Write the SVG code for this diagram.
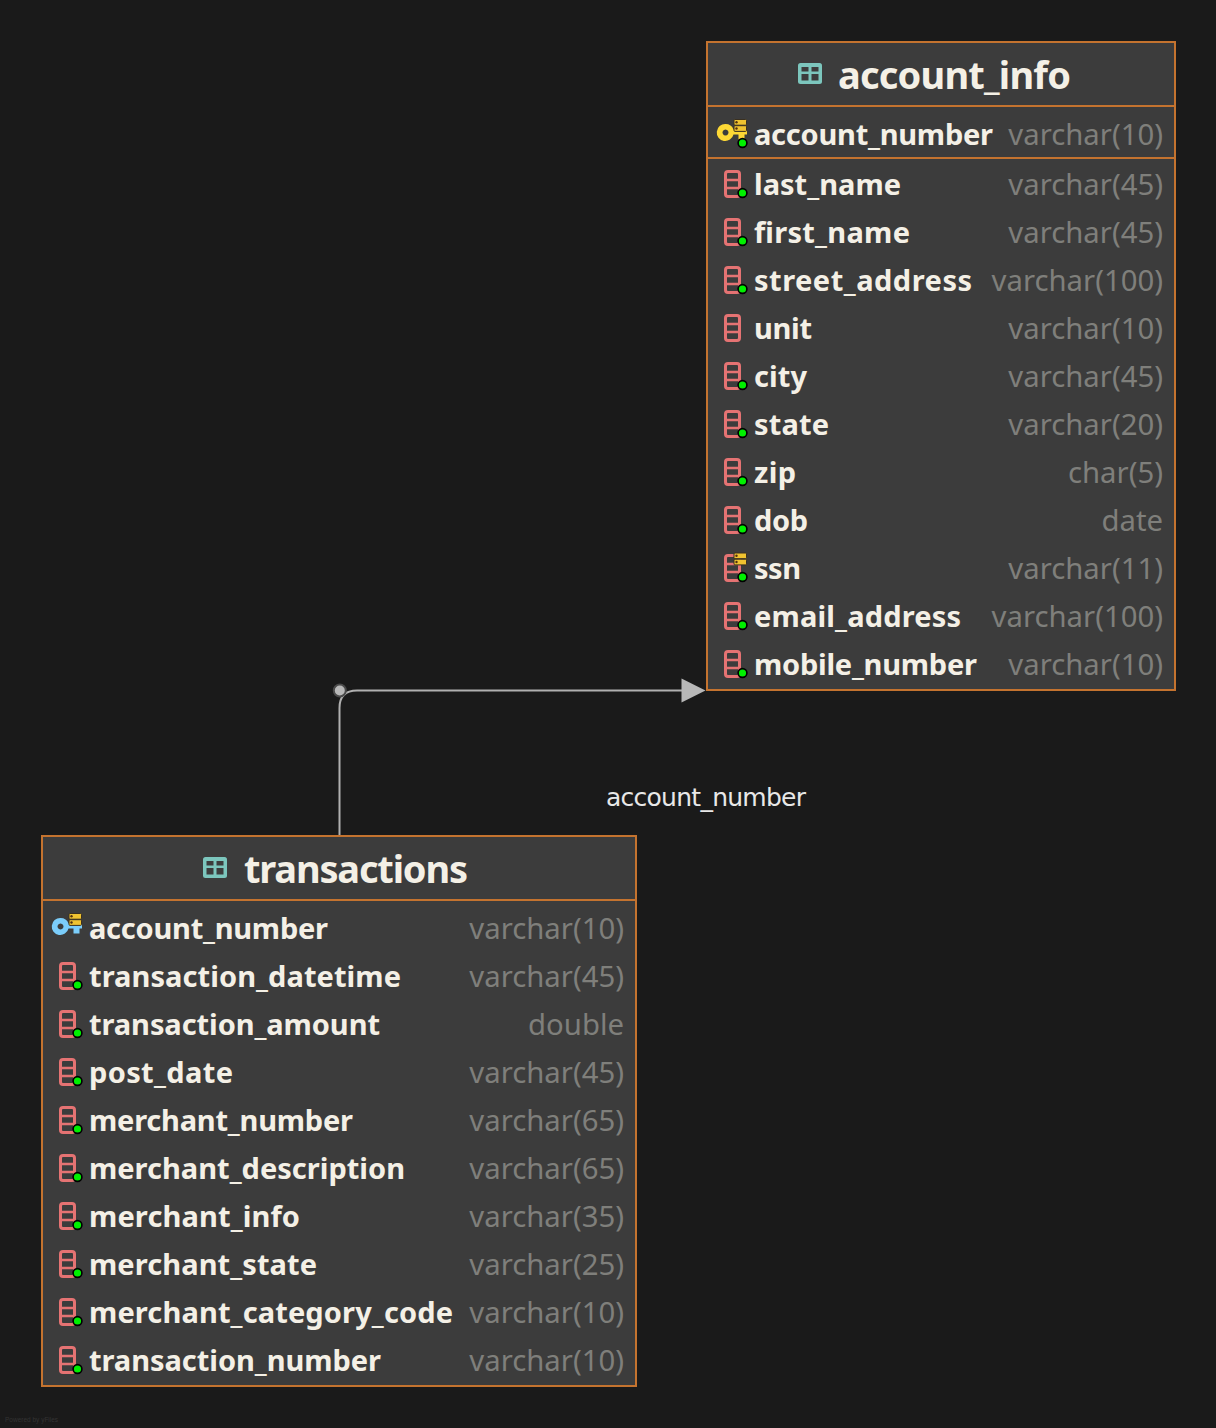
<svg xmlns="http://www.w3.org/2000/svg" xmlns:xlink="http://www.w3.org/1999/xlink" width="1216" height="1428" viewBox="0 0 1216 1428">
<style>
.n{font:700 29px "Noto Sans",sans-serif;fill:#f4f0e6}
.t{font:400 29.300px "Noto Sans",sans-serif;fill:#7f7f7b;text-anchor:end}
.h{font:700 38px "Noto Sans",sans-serif;fill:#f4f0e6}
.b{fill:#3c3c3c;stroke:#c4732f;stroke-width:2}
.d{stroke:#c4732f;stroke-width:2}
.l{font:400 25px "DejaVu Sans",sans-serif;fill:#e8e8e8}
.e{fill:none;stroke:#b0b0b0;stroke-width:2}
</style>
<defs>
<g id="tbl"><rect x="0" y="0" width="24" height="21" rx="2.500" fill="#7cc6bd"/><path d="M3.500 4h7v4.500h-7zM13.500 4h7v4.500h-7zM3.500 11h7v6.500h-7zM13.500 11h7v6.500h-7z" fill="#3c3c3c"/></g>
<g id="col"><rect x="1.500" y="1.500" width="14" height="25" rx="2.500" fill="none" stroke="#e57373" stroke-width="3"/><path d="M2 10h13M2 18h13" stroke="#e57373" stroke-width="2.500"/></g>
<g id="dot"><circle cx="0" cy="0" r="4.400" fill="#00f000" stroke="#000" stroke-width="1.600"/></g>
<g id="idx"><rect x="0" y="0" width="12.500" height="5.700" rx="1" fill="#f0c330" stroke="#3a3020"/><rect x="0" y="6.200" width="12.500" height="5.700" rx="1" fill="#f0c330" stroke="#3a3020"/><circle cx="2.500" cy="2.800" r="1.200" fill="#503010"/><circle cx="2.500" cy="9" r="1.200" fill="#503010"/></g>
<g id="key"><path fill-rule="evenodd" d="M8.500 0a8.500 8.500 0 0 1 8 5.500h13.500v5h-2.500v5h-6v-5h-5a8.500 8.500 0 1 1-8-10.500zm0 5.500a3 3 0 1 0 0.010 0z"/></g>
</defs>
<rect width="1216" height="1428" fill="#1a1a1a"/>
<text x="5" y="1422" font-family="Liberation Sans,sans-serif" font-size="6.500" fill="#333">Powered by yFiles</text>
<g id="connectors">
<path class="e" d="M339.500 835V708Q339.500 690.500 357 690.500H684"/>
<circle cx="339.800" cy="690.500" r="6" fill="#b8b8b8" stroke="#4a4a4a" stroke-width="2"/>
<path d="M681.500 678.500L705.500 690.500L681.500 702.500z" fill="#b8b8b8"/>
<text class="l" x="606" y="806" textLength="200">account_number</text>
</g>
<g id="account_info">
<rect class="b" x="707" y="42" width="468" height="648"/>
<path class="d" d="M707 106H1175M707 158H1175"/>
<use href="#tbl" x="798" y="63"/>
<text class="h" x="838" y="89" textLength="233">account_info</text>
<g fill="#fdd835"><use href="#key" x="717" y="124"/></g><use href="#idx" x="734" y="119.500"/><use href="#dot" x="742.500" y="143"/>
<text class="n" x="754" y="145" textLength="239">account_number</text><text class="t" x="1163" y="144.500">varchar(10)</text>
<use href="#col" x="724" y="170"/><use href="#dot" x="742.500" y="193"/><text class="n" x="754" y="195" textLength="147">last_name</text><text class="t" x="1163" y="194.500">varchar(45)</text>
<use href="#col" x="724" y="218"/><use href="#dot" x="742.500" y="241"/><text class="n" x="754" y="243" textLength="156">first_name</text><text class="t" x="1163" y="242.500">varchar(45)</text>
<use href="#col" x="724" y="266"/><use href="#dot" x="742.500" y="289"/><text class="n" x="754" y="291" textLength="218">street_address</text><text class="t" x="1163" y="290.500">varchar(100)</text>
<use href="#col" x="724" y="314"/><text class="n" x="754" y="339" textLength="58">unit</text><text class="t" x="1163" y="338.500">varchar(10)</text>
<use href="#col" x="724" y="362"/><use href="#dot" x="742.500" y="385"/><text class="n" x="754" y="387" textLength="53">city</text><text class="t" x="1163" y="386.500">varchar(45)</text>
<use href="#col" x="724" y="410"/><use href="#dot" x="742.500" y="433"/><text class="n" x="754" y="435" textLength="75">state</text><text class="t" x="1163" y="434.500">varchar(20)</text>
<use href="#col" x="724" y="458"/><use href="#dot" x="742.500" y="481"/><text class="n" x="754" y="483" textLength="42">zip</text><text class="t" x="1163" y="482.500">char(5)</text>
<use href="#col" x="724" y="506"/><use href="#dot" x="742.500" y="529"/><text class="n" x="754" y="531" textLength="54">dob</text><text class="t" x="1163" y="530.500">date</text>
<use href="#col" x="724" y="554"/><use href="#idx" x="734" y="553"/><use href="#dot" x="742.500" y="577"/><text class="n" x="754" y="579" textLength="47">ssn</text><text class="t" x="1163" y="578.500">varchar(11)</text>
<use href="#col" x="724" y="602"/><use href="#dot" x="742.500" y="625"/><text class="n" x="754" y="627" textLength="207">email_address</text><text class="t" x="1163" y="626.500">varchar(100)</text>
<use href="#col" x="724" y="650"/><use href="#dot" x="742.500" y="673"/><text class="n" x="754" y="675" textLength="223">mobile_number</text><text class="t" x="1163" y="674.500">varchar(10)</text>
</g>
<g id="transactions">
<rect class="b" x="42" y="836" width="594" height="550"/>
<path class="d" d="M42 900H636"/>
<use href="#tbl" x="203" y="857"/>
<text class="h" x="244" y="883" textLength="224">transactions</text>
<g fill="#7bcdfa"><use href="#key" x="52" y="918"/></g><use href="#idx" x="69" y="913.500"/>
<text class="n" x="89" y="939" textLength="239">account_number</text><text class="t" x="624" y="938.500">varchar(10)</text>
<use href="#col" x="59" y="962"/><use href="#dot" x="77.500" y="985"/><text class="n" x="89" y="987" textLength="312">transaction_datetime</text><text class="t" x="624" y="986.500">varchar(45)</text>
<use href="#col" x="59" y="1010"/><use href="#dot" x="77.500" y="1033"/><text class="n" x="89" y="1035" textLength="291">transaction_amount</text><text class="t" x="624" y="1034.500">double</text>
<use href="#col" x="59" y="1058"/><use href="#dot" x="77.500" y="1081"/><text class="n" x="89" y="1083" textLength="144">post_date</text><text class="t" x="624" y="1082.500">varchar(45)</text>
<use href="#col" x="59" y="1106"/><use href="#dot" x="77.500" y="1129"/><text class="n" x="89" y="1131" textLength="264">merchant_number</text><text class="t" x="624" y="1130.500">varchar(65)</text>
<use href="#col" x="59" y="1154"/><use href="#dot" x="77.500" y="1177"/><text class="n" x="89" y="1179" textLength="316">merchant_description</text><text class="t" x="624" y="1178.500">varchar(65)</text>
<use href="#col" x="59" y="1202"/><use href="#dot" x="77.500" y="1225"/><text class="n" x="89" y="1227" textLength="211">merchant_info</text><text class="t" x="624" y="1226.500">varchar(35)</text>
<use href="#col" x="59" y="1250"/><use href="#dot" x="77.500" y="1273"/><text class="n" x="89" y="1275" textLength="228">merchant_state</text><text class="t" x="624" y="1274.500">varchar(25)</text>
<use href="#col" x="59" y="1298"/><use href="#dot" x="77.500" y="1321"/><text class="n" x="89" y="1323" textLength="364">merchant_category_code</text><text class="t" x="624" y="1322.500">varchar(10)</text>
<use href="#col" x="59" y="1346"/><use href="#dot" x="77.500" y="1369"/><text class="n" x="89" y="1371" textLength="292">transaction_number</text><text class="t" x="624" y="1370.500">varchar(10)</text>
</g>
</svg>
